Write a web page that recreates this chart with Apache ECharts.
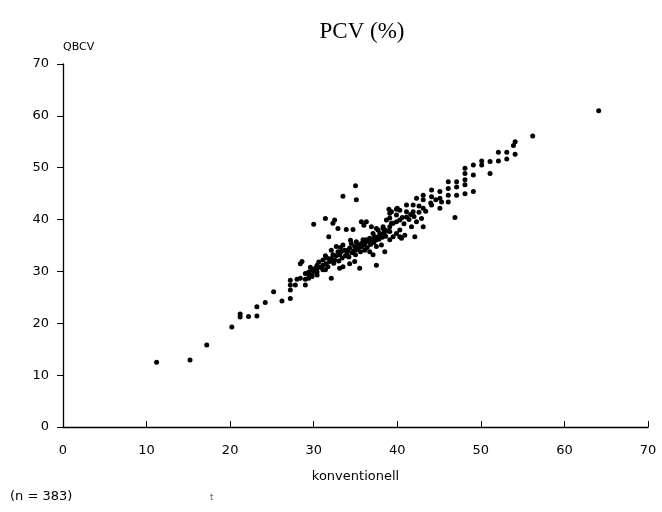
<!DOCTYPE html>
<html>
<head>
<meta charset="utf-8">
<script src="https://cdn.jsdelivr.net/npm/echarts@6/dist/echarts.min.js"></script>
<style>html,body{margin:0;padding:0;background:#fff}#c{width:662px;height:512px}</style>
</head>
<body>
<div id="c"></div>
<script>
// conventional PCV (x) and QBCV (y)
const konventionell = [
11.2,15.2,17.2,20.2,21.2,21.2,22.2,23.2,23.2,24.2,25.2,26.2,27.2,27.2,27.2,27.2,27.8,28.0,28.4,28.4,
28.6,29.0,29.0,29.0,29.4,29.4,29.4,29.8,29.8,29.8,30.0,30.2,30.4,30.4,30.4,30.4,31.1,31.1,31.1,31.4,
31.4,31.4,31.5,31.7,31.8,31.9,32.1,32.1,32.1,32.3,32.3,32.5,32.5,32.7,32.7,32.9,32.9,33.1,33.1,33.3,
33.5,33.5,33.5,33.7,33.9,34.1,34.3,34.3,34.5,34.7,34.9,34.9,35.0,35.1,35.1,35.3,35.5,35.7,35.7,35.9,
36.0,36.1,36.3,36.3,36.7,36.7,36.9,37.1,37.1,37.3,37.5,37.5,37.5,37.7,37.9,38.1,38.3,38.3,38.5,38.5,
38.7,39.0,39.1,39.1,39.1,39.1,39.1,39.3,39.3,39.5,39.5,39.9,39.9,39.9,39.9,40.0,40.3,40.3,40.3,40.3,
40.5,40.9,41.1,41.1,41.1,41.7,41.9,41.9,42.1,42.3,42.3,42.9,43.1,43.1,43.1,43.1,44.1,44.1,44.1,45.1,
45.1,45.1,45.3,46.1,46.1,46.1,46.1,46.9,47.1,47.1,47.1,48.1,48.1,48.1,48.1,48.1,49.1,49.1,49.1,50.1,
50.1,51.1,51.1,52.1,52.1,53.1,53.1,54.1,53.9,54.1,56.2,64.1,
33.0,33.4,33.8,34.0,34.2,34.6,34.8,35.0,35.2,35.4,35.6,35.8,36.0,36.2,36.4,36.6,36.8,37.0,37.2,37.4,
37.6,37.8,38.0,38.2,38.4,38.6,38.8,34.4,33.2,32.4,31.6,30.8,30.6,30.0,29.6,
40.6,40.8,41.4,41.6,42.0,42.6,42.6,43.4,44.0,44.6
];
const qbcv = [
12.5,12.9,15.8,19.3,21.8,21.2,21.3,23.2,21.4,24.0,26.1,24.3,24.8,26.4,27.4,28.3,27.4,28.5,28.7,31.5,
31.9,27.4,28.5,29.6,28.7,29.9,29.3,29.3,30.3,29.0,39.1,30.6,29.3,29.9,30.6,31.2,32.2,31.2,30.3,30.3,
33.0,40.2,31.5,30.9,36.7,31.9,32.5,28.7,34.1,33.2,39.3,32.2,39.9,33.0,34.8,33.8,38.3,33.2,30.6,33.8,
35.1,30.9,44.5,34.1,38.1,34.1,34.5,31.5,35.4,38.1,34.8,31.9,46.5,35.7,43.8,35.1,30.6,35.4,39.6,36.1,
38.9,34.1,36.1,39.6,36.4,33.8,38.6,37.3,33.2,36.7,38.3,31.2,34.8,38.0,37.3,35.1,38.6,38.3,38.0,33.8,
39.9,42.0,41.2,40.3,38.6,37.7,36.1,39.3,41.5,39.3,36.7,42.0,40.9,39.6,37.3,42.2,41.8,39.9,38.0,36.7,
36.4,37.0,42.8,41.5,40.5,38.6,42.8,41.5,36.7,44.1,39.6,40.2,44.7,43.8,42.2,38.6,45.7,44.4,42.8,45.4,
44.1,42.2,43.4,47.3,46.0,44.7,43.4,40.4,47.3,46.3,44.7,49.9,48.9,47.7,46.7,45.0,50.5,48.6,45.4,51.3,
50.5,51.2,48.9,53.0,51.3,53.0,51.7,55.0,54.3,52.6,56.1,61.0,
32.0,32.6,33.0,33.4,32.8,33.6,34.0,33.2,34.2,34.6,33.8,34.8,35.2,35.6,34.6,35.8,35.2,36.2,35.6,36.0,
36.6,36.2,37.0,36.6,37.4,36.8,37.8,36.0,34.6,31.6,32.6,30.8,31.8,30.0,30.8,
40.4,39.2,40.0,41.0,40.6,41.4,42.6,41.6,43.2,43.8
];
const xTicks = [0,10,20,30,40,50,60,70];
const yTicks = [0,10,20,30,40,50,60,70];
const titleText = 'PCV (%)';
const xName = 'konventionell';
const yName = 'QBCV';
const noteText = '(n = 383)';

const pts = konventionell.map((x,i)=>[x,qbcv[i]]);
const chart = echarts.init(document.getElementById('c'), null, {renderer:'canvas'});
const lab = {color:'#000', fontFamily:'DejaVu Sans', fontSize:13};
chart.setOption({
  animation:false,
  backgroundColor:'#fff',
  title:{text:titleText, left:357, top:15, textAlign:'center',
    textStyle:{fontFamily:'Liberation Serif', fontSize:23, fontWeight:'normal', color:'#000'}},
  grid:{left:63, right:14, top:64, bottom:85},
  xAxis:{type:'value', min:xTicks[0], max:xTicks[xTicks.length-1], interval:10,
    name:xName, nameLocation:'middle', nameGap:43,
    nameTextStyle:lab,
    axisLine:{lineStyle:{color:'#000', width:1.3}},
    axisTick:{inside:true, length:6, lineStyle:{color:'#000'}},
    axisLabel:Object.assign({margin:17}, lab),
    splitLine:{show:false}},
  yAxis:{type:'value', min:yTicks[0], max:yTicks[yTicks.length-1], interval:10,
    name:yName, nameLocation:'end', nameGap:11,
    nameTextStyle:{align:'left', verticalAlign:'bottom', fontSize:11, color:'#000', fontFamily:'DejaVu Sans'},
    axisLine:{lineStyle:{color:'#000', width:1.3}},
    axisTick:{length:6, lineStyle:{color:'#000'}},
    axisLabel:Object.assign({margin:14}, lab),
    splitLine:{show:false}},
  graphic:[
    {type:'text', left:10, top:490, style:{text:noteText, fill:'#000', font:'13px "DejaVu Sans"'}},
    {type:'text', left:210, top:493, style:{text:'t', fill:'#666', font:'9px "DejaVu Sans"'}}
  ],
  series:[{type:'scatter', data:pts, symbol:'circle', symbolSize:5,
    itemStyle:{color:'#000', opacity:1}}]
});
</script>
</body>
</html>
